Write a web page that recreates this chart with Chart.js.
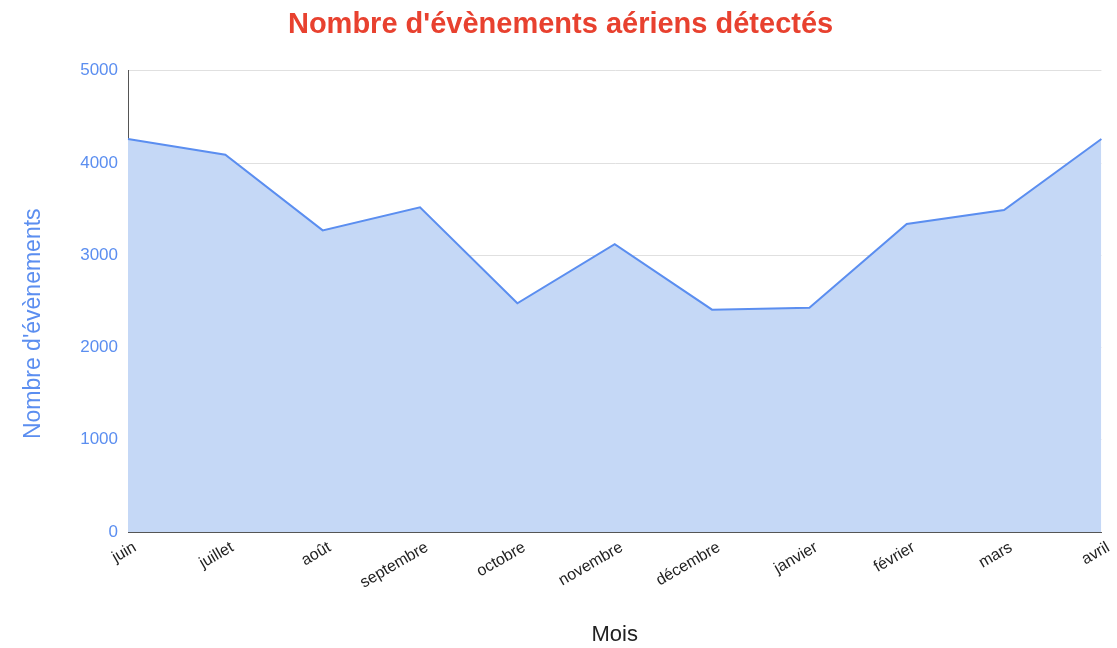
<!DOCTYPE html>
<html>
<head>
<meta charset="utf-8">
<script src="https://cdn.jsdelivr.net/npm/chart.js@4"></script>
<style>
  body { margin: 0; background: #fff; }
  #wrap { width: 1117px; height: 648px; }
</style>
</head>
<body>
<div id="wrap"><canvas id="chart" width="1117" height="648"></canvas></div>
<script>
// months (x axis)
var months = ['juin', 'juillet', 'août', 'septembre', 'octobre', 'novembre',
  'décembre', 'janvier', 'février', 'mars', 'avril'];
// number of detected events per month
var events = [4260, 4090, 3270, 3520, 2480, 3120, 2410, 2430, 3340, 3490, 4260];

var blue = '#5b8ef0';

var ctx = document.getElementById('chart');
var myChart = new Chart(ctx, {
  type: 'line',
  data: {
    labels: months,
    datasets: [{
      label: "Nombre d'évènements",
      data: events,
      borderColor: blue,
      backgroundColor: 'rgba(197, 216, 246, 1)',
      borderWidth: 2,
      fill: 'origin',
      pointRadius: 0,
      tension: 0
    }]
  },
  options: {
    responsive: false,
    animation: false,
    layout: { padding: { left: 0, right: 12, top: 0, bottom: 0 } },
    plugins: {
      legend: { display: false },
      title: {
        display: true,
        // leading spaces nudge the centred title a bit to the right
        text: "  Nombre d'évènements aériens détectés",
        color: '#e8412f',
        font: { family: 'Liberation Sans', size: 29, weight: 'bold' },
        padding: { top: 8, bottom: 28 }
      },
      tooltip: { enabled: false }
    },
    scales: {
      x: {
        offset: false,
        grid: { display: false, drawTicks: false },
        border: { color: '#555', width: 1 },
        ticks: {
          color: '#222',
          font: { family: 'Liberation Sans', size: 16 },
          minRotation: 30,
          maxRotation: 30,
          padding: 6,
          labelOffset: 7
        },
        title: {
          display: true,
          text: 'Mois',
          color: '#222',
          font: { family: 'Liberation Sans', size: 22 },
          padding: { top: 0, bottom: 0 }
        },
        afterFit: function(scale) { scale.height = 116; }
      },
      y: {
        min: 0,
        max: 5000,
        grid: { color: '#e0e0e0', drawTicks: false },
        border: { color: '#555', width: 1 },
        ticks: {
          stepSize: 1000,
          color: blue,
          font: { family: 'Liberation Sans', size: 17 },
          padding: 10,
          callback: function(v) { return String(v); }
        },
        title: {
          display: true,
          // trailing spaces push the rotated text a little lower, like the original
          text: "Nombre d'évènements       ",
          color: blue,
          font: { family: 'Liberation Sans', size: 23 },
          padding: { top: 20, bottom: 0 }
        },
        afterFit: function(scale) { scale.width = 128; }
      }
    }
  }
});
</script>
</body>
</html>
